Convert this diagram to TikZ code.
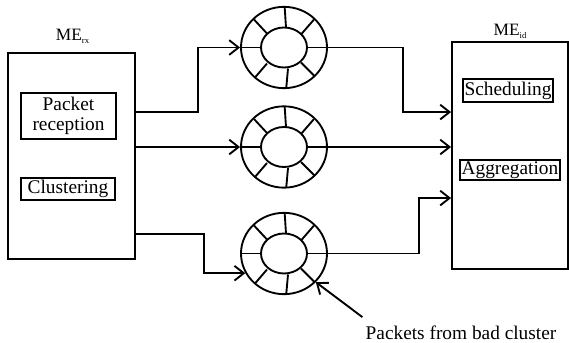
\documentclass[tikz,border=0pt]{standalone}
\usepackage{fontspec}
\setmainfont{Liberation Serif}
\usetikzlibrary{positioning,arrows.meta,shapes.geometric,calc}
\tikzset{
  mebox/.style  ={draw,line width=1.4pt,inner sep=0pt},
  sub/.style    ={draw,line width=1.4pt,align=center,inner sep=1pt},
  buffer/.style ={draw,ellipse,line width=1.4pt,inner sep=0pt,
                  minimum width=64.5pt,minimum height=61pt},
  spoke/.style  ={line width=1.4pt},
  arr/.style    ={-{Straight Barb[length=7pt,width=11pt]},line width=1.4pt},
  lbl/.style    ={inner sep=0pt},
  melbl/.style  ={inner sep=0pt,anchor=base,font=\fontsize{13}{13}\selectfont},
}
\newcommand{\sbs}[1]{\raisebox{-0.45ex}{\fontsize{6.5}{6.5}\selectfont #1}}

\begin{document}
\begin{tikzpicture}[x=0.75pt,y=-0.75pt,font=\fontsize{14.5}{15}\selectfont]
\useasboundingbox (0,0) rectangle (569,343);

% receive engine
\node[mebox,minimum width=95.25pt,minimum height=154.5pt] (rx) at (71.5,156) {};
\node[melbl] (rxlbl) at (72.5,40) {ME\sbs{rx}};
\node[sub,minimum width=71.25pt,minimum height=34.5pt] (recv) at (68.5,116) {Packet\\reception};
\node[sub,minimum width=70.5pt,minimum height=16.5pt] (clus) at (68,189) {Clustering};

% scheduling engine
\node[mebox,minimum width=87pt,minimum height=170.25pt] (id) at (510,155.5) {};
\node[melbl] (idlbl) at (510,35) {ME\sbs{id}};
\node[sub,minimum width=67.5pt,minimum height=17pt] (sched) at (508,90.5) {Scheduling};
\node[sub,minimum width=72pt,minimum height=15pt] (aggr) at (510,170) {Aggregation};

% ring buffers
\foreach \n/\y in {q1/47.5,q2/147,q3/253.5}{
  \node[buffer] (\n) at (284,\y) {};
  \draw[spoke] (\n) ellipse [x radius=17.25pt,y radius=15pt];
  \foreach \ix/\iy/\ox/\oy in {23/0/43/0, 17/-13/30/-28, 2/-20/0.7/-40, -17/-14/-30/-28,
                              -22/0/-44/0, -17/16/-29/30, 4/21/2.3/40, 17/15/31/29}
    \draw[spoke] ($(\n)+(\ix,\iy)$) -- ($(\n)+(\ox,\oy)$);
}

\draw[arr] ($(rx.north east)+(0,60)$) -- ++(62,0) |- (q1.west);
\draw[arr] (rx.east |- q2.west) -- (q2.west);
\draw[arr] ($(rx.north east)+(0,182)$) -- ++(68,0) |- (q3.207);

\draw[arr] (q1.east) -- ++(75,0) |- ($(id.north west)+(0,71)$);
\draw[arr] (q2.east) -- (q2.east -| id.west);
\draw[arr] (q3.east) -- ++(91,0) |- ($(id.north west)+(0,157)$);

\node[lbl,anchor=base] (bad) at (461,339) {Packets from bad cluster};
\draw[arr] ($(bad.north west)+(-3,-8)$) -- (q3.-42);

\end{tikzpicture}
\end{document}
